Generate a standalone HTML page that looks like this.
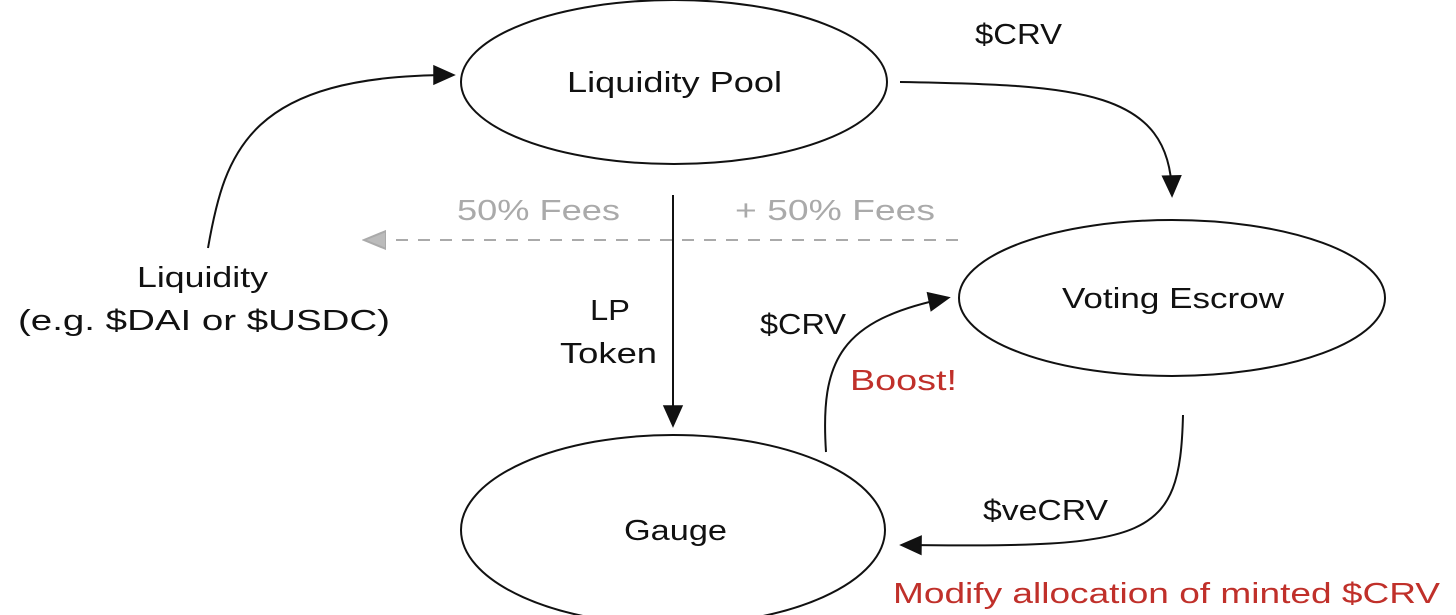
<!DOCTYPE html>
<html><head><meta charset="utf-8"><style>
html,body{margin:0;padding:0;background:#fff;}
svg{display:block}
text{font-family:"Liberation Sans",sans-serif;}
</style></head><body>
<svg width="1456" height="615" viewBox="0 0 1456 615" xmlns="http://www.w3.org/2000/svg">
<defs>
<marker id="a" markerWidth="24" markerHeight="24" refX="20" refY="12" orient="auto" markerUnits="userSpaceOnUse" viewBox="0 0 24 24">
<path d="M2,3 L22,12 L2,21 Z" fill="#111" stroke="#111" stroke-width="1.5"/>
</marker>
<marker id="ag" markerWidth="24" markerHeight="24" refX="20" refY="12" orient="auto" markerUnits="userSpaceOnUse" viewBox="0 0 24 24">
<path d="M0,3 L22,12 L0,21 Z" fill="#bbb" stroke="#aaa" stroke-width="2"/>
</marker>
</defs>
<g fill="none" stroke="#111" stroke-width="2">
<ellipse cx="674" cy="82" rx="213" ry="82"/>
<ellipse cx="1172" cy="298" rx="213" ry="78"/>
<ellipse cx="673" cy="530" rx="212" ry="95"/>
<path d="M208,248 C225,150 250,75 452,75" marker-end="url(#a)" stroke-width="2"/>
<path d="M900,82 C1080,85 1170,90 1172,194" marker-end="url(#a)"/>
<path d="M673,195 L673,424" marker-end="url(#a)"/>
<path d="M826,452 C820,360 840,320 947,298" marker-end="url(#a)"/>
<path d="M1183,415 C1180,540 1150,548 903,545" marker-end="url(#a)"/>
</g>
<path d="M958,240 L366,240" stroke="#aaa" stroke-width="2" stroke-dasharray="12,10" fill="none" marker-end="url(#ag)"/>
<g font-size="29" fill="#111">
<text x="567" y="92" textLength="215" lengthAdjust="spacingAndGlyphs">Liquidity Pool</text>
<text x="1062" y="308" textLength="222" lengthAdjust="spacingAndGlyphs">Voting Escrow</text>
<text x="624" y="540" textLength="103" lengthAdjust="spacingAndGlyphs">Gauge</text>
<text x="975" y="44" textLength="87" lengthAdjust="spacingAndGlyphs">$CRV</text>
<text x="137" y="287" textLength="131" lengthAdjust="spacingAndGlyphs">Liquidity</text>
<text x="18" y="330" textLength="372" lengthAdjust="spacingAndGlyphs">(e.g. $DAI or $USDC)</text>
<text x="590" y="320" textLength="40" lengthAdjust="spacingAndGlyphs">LP</text>
<text x="560" y="363" textLength="97" lengthAdjust="spacingAndGlyphs">Token</text>
<text x="760" y="334" textLength="86" lengthAdjust="spacingAndGlyphs">$CRV</text>
<text x="983" y="520" textLength="125" lengthAdjust="spacingAndGlyphs">$veCRV</text>
</g>
<g font-size="29" fill="#aaa">
<text x="457" y="220" textLength="163" lengthAdjust="spacingAndGlyphs">50% Fees</text>
<text x="735" y="220" textLength="200" lengthAdjust="spacingAndGlyphs">+ 50% Fees</text>
</g>
<g font-size="29" fill="#c0302a">
<text x="850" y="390" textLength="107" lengthAdjust="spacingAndGlyphs">Boost!</text>
<text x="893" y="603" textLength="547" lengthAdjust="spacingAndGlyphs">Modify allocation of minted $CRV</text>
</g>
</svg>
</body></html>
